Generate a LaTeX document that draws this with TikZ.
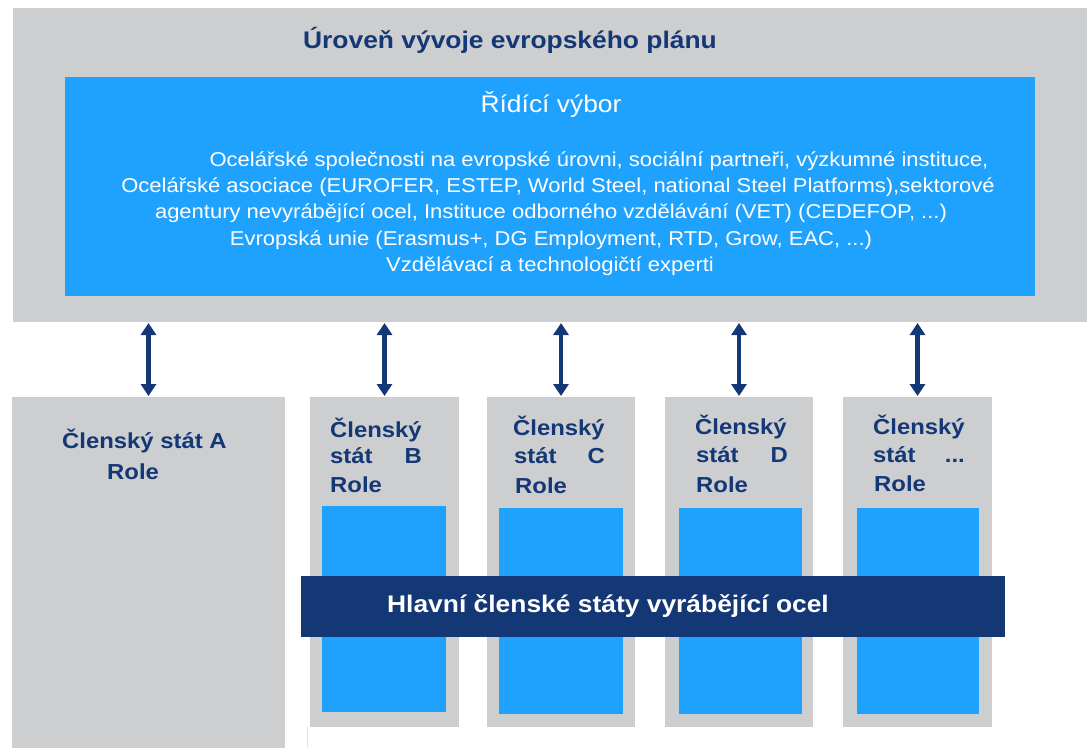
\documentclass[tikz,border=0pt]{standalone}
\usepackage{fontspec}
\setmainfont[FakeStretch=1.1]{Liberation Sans}
\usetikzlibrary{arrows.meta,positioning}
\definecolor{bgray}{HTML}{CDCED0}
\definecolor{sky}{HTML}{1FA1FE}
\definecolor{navy}{HTML}{143776}
\tikzset{
  box/.style={anchor=north west, inner sep=0pt, outer sep=0pt},
  graybox/.style={box, fill=bgray},
  bluebox/.style={box, fill=sky},
  navybox/.style={box, fill=navy},
  lbl/.style={text=navy, font=\bfseries\fontsize{21.7}{26}\selectfont, inner sep=0pt, anchor=base west},
  lblr/.style={lbl, anchor=base east},
  body/.style={text=white, font=\fontsize{20}{24}\selectfont, inner sep=0pt, anchor=base},
  link/.style={draw=navy, line width=4.5pt, {Triangle[width=15pt,length=12pt]}-{Triangle[width=15pt,length=12pt]}, shorten >=1pt, shorten <=1pt}
}
\begin{document}
\begin{tikzpicture}[x=1pt,y=-1pt]
\useasboundingbox (0,0) rectangle (1091,748);
% top level
\node[graybox, minimum width=1074pt, minimum height=314pt] (top) at (13,8) {};
\node[text=navy, font=\bfseries\fontsize{24}{28}\selectfont, inner sep=0pt, anchor=base] (title) at (510,48) {Úroveň vývoje evropského plánu};
\node[bluebox, minimum width=970pt, minimum height=219pt] (sc) at (65,77) {};
\node[text=white, font=\fontsize{24}{28}\selectfont, inner sep=0pt, anchor=base] (sctitle) at (551,112) {Řídící výbor};
\node[body] (l1) at (599,166) {Ocelářské společnosti na evropské úrovni, sociální partneři, výzkumné instituce,};
\node[body] (l2) at (558,192) {Ocelářské asociace (EUROFER, ESTEP, World Steel, national Steel Platforms),sektorové};
\node[body] (l3) at (551,218) {agentury nevyrábějící ocel, Instituce odborného vzdělávání (VET) (CEDEFOP, ...)};
\node[body] (l4) at (551,245) {Evropská unie (Erasmus+, DG Employment, RTD, Grow, EAC, ...)};
\node[body] (l5) at (550,271) {Vzdělávací a technologičtí experti};
% member state A
\node[graybox, minimum width=273pt, minimum height=351pt] (A) at (12,397) {};
\node[lbl] (Atxt) at (62,448) {Členský stát A};
\node[lbl] (Arole) at (107,479) {Role};
% member states B..
\node[graybox, minimum width=149pt, minimum height=330pt] (B) at (310,397) {};
\node[graybox, minimum width=148pt, minimum height=330pt] (C) at (487,397) {};
\node[graybox, minimum width=148pt, minimum height=330pt] (D) at (665,397) {};
\node[graybox, minimum width=149pt, minimum height=330pt] (E) at (843,397) {};
\draw[bgray!60, line width=0.8pt] (B.south west) ++(-3,0) -- ++(0,21);
\node[bluebox, minimum width=124pt, minimum height=206pt] (Bi) at (322,506) {};
\node[bluebox, minimum width=124pt, minimum height=206pt] (Ci) at (499,508) {};
\node[bluebox, minimum width=123pt, minimum height=206pt] (Di) at (679,508) {};
\node[bluebox, minimum width=122pt, minimum height=206pt] (Ei) at (857,508) {};
% labels
\node[lbl] (B1) at (330,437) {Členský};
\node[lbl] (B2) at (330,463) {stát};
\node[lblr] (B3) at (422,463) {B};
\node[lbl] (B4) at (330,492) {Role};
\node[lbl] (C1) at (513,435) {Členský};
\node[lbl] (C2) at (514,463) {stát};
\node[lblr] (C3) at (605,463) {C};
\node[lbl] (C4) at (515,493) {Role};
\node[lbl] (D1) at (695,434) {Členský};
\node[lbl] (D2) at (696,462) {stát};
\node[lblr] (D3) at (788,462) {D};
\node[lbl] (D4) at (696,492) {Role};
\node[lbl] (E1) at (873,434) {Členský};
\node[lbl] (E2) at (873,462) {stát};
\node[lblr] (E3) at (965,462) {...};
\node[lbl] (E4) at (874,491) {Role};
% band
\node[navybox, minimum width=704pt, minimum height=61pt] (band) at (301,576) {};
\node[text=white, font=\bfseries\fontsize{24}{28}\selectfont, inner sep=0pt, anchor=base] (bandtxt) at (608,612) {Hlavní členské státy vyrábějící ocel};
% arrows
\foreach \n in {A,B,C,D,E}
  \draw[link] (top.south -| \n.north) -- (\n.north);
\end{tikzpicture}
\end{document}
